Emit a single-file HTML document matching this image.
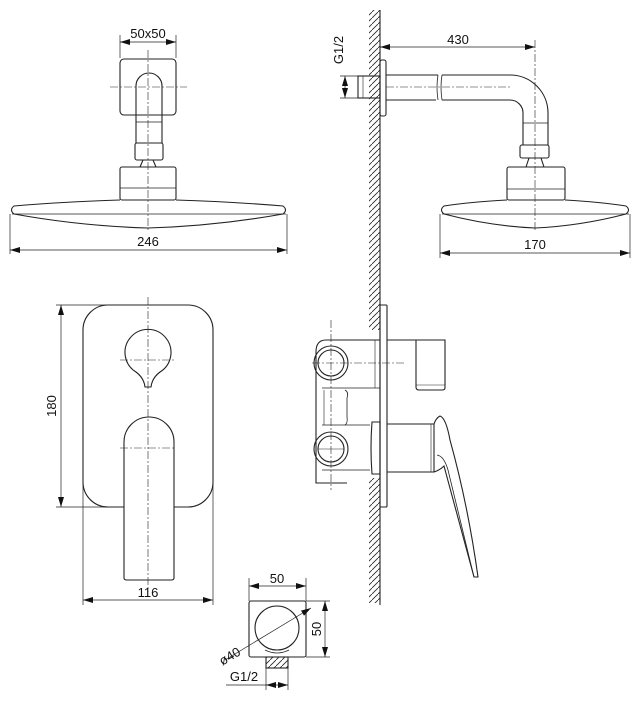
<!DOCTYPE html>
<html><head><style>
html,body{margin:0;padding:0;background:#fff;}
svg{display:block;}
text{font-family:"Liberation Sans",sans-serif;font-size:13px;fill:#111;}
</style></head><body>
<svg width="641" height="701" viewBox="0 0 641 701" xmlns="http://www.w3.org/2000/svg">
<defs>
<marker id="a" markerWidth="10" markerHeight="6" refX="10" refY="3" orient="auto-start-reverse" markerUnits="userSpaceOnUse"><path d="M0,0 L10,3 L0,6 z" fill="#111"/></marker>
<pattern id="h" width="6" height="6" patternUnits="userSpaceOnUse"><path d="M-1,7 L7,-1" stroke="#222" stroke-width="0.8"/></pattern>
</defs>
<g fill="none" stroke="#222" stroke-width="1.1">
<!-- top-left showerhead -->
<line x1="120" y1="35" x2="120" y2="58" stroke-width="0.7"/>
<line x1="176" y1="35" x2="176" y2="58" stroke-width="0.7"/>
<line x1="120" y1="42" x2="176" y2="42" stroke-width="0.7" marker-start="url(#a)" marker-end="url(#a)"/>
<rect x="120" y="59" width="56" height="56" rx="4"/>
<path d="M136,143 V86 A13,13 0 0 1 162,86 V143"/>
<line x1="136" y1="122" x2="162" y2="122" stroke-width="0.7"/>
<rect x="135" y="143" width="28" height="17" rx="2"/>
<path d="M140,167 L143,160 H153 L156,167"/>
<rect x="120" y="167" width="56" height="33" rx="2"/>
<line x1="120" y1="188" x2="176" y2="188" stroke-width="0.7"/>
<path d="M120,200 Q60,202 14,206 Q9,210 14,214 Q80,226 148,228 Q216,226 283,214 Q288,210 283,206 Q236,202 176,200"/>
<line x1="12" y1="214" x2="286" y2="214" stroke-width="0.7"/>
<line x1="10" y1="214" x2="10" y2="254" stroke-width="0.7"/>
<line x1="287" y1="214" x2="287" y2="254" stroke-width="0.7"/>
<line x1="10" y1="250" x2="287" y2="250" stroke-width="0.7" marker-start="url(#a)" marker-end="url(#a)"/>
<line x1="148" y1="50" x2="148" y2="232" stroke-width="0.6" stroke-dasharray="8,2,2,2"/>
<line x1="110" y1="87" x2="187" y2="87" stroke-width="0.6" stroke-dasharray="8,2,2,2"/>

<!-- wall -->
<rect x="369" y="10" width="11" height="320" fill="url(#h)" stroke="none"/>
<rect x="369" y="478" width="11" height="125" fill="url(#h)" stroke="none"/>
<line x1="380" y1="10" x2="380" y2="605"/>

<!-- shower arm -->
<rect x="380" y="60" width="6" height="56" rx="2"/>
<rect x="358" y="76" width="22" height="22"/>
<line x1="363" y1="76" x2="363" y2="98" stroke-width="0.6"/>
<path d="M386,75 H438 M386,100 H436"/>
<path d="M438,75 Q436,87 438,100" stroke-width="0.8"/>
<path d="M442,75 Q440,87 442,100" stroke-width="0.8"/>
<path d="M442,75 H510 A38,38 0 0 1 548,113 V145"/>
<path d="M442,100 H510 A13,13 0 0 1 523,113 V145"/>
<line x1="386" y1="87" x2="510" y2="87" stroke-width="0.6" stroke-dasharray="8,2,2,2"/>
<line x1="523" y1="123" x2="548" y2="123" stroke-width="0.7"/>
<rect x="520" y="145" width="29" height="13" rx="2"/>
<path d="M526,167 L529,158 H541 L544,167"/>
<rect x="507" y="167" width="58" height="33" rx="2"/>
<line x1="507" y1="189" x2="565" y2="189" stroke-width="0.7"/>
<path d="M507,200 Q470,202 444,206 Q439,210 444,214 Q490,226 535,228 Q580,226 626,214 Q631,210 626,206 Q600,202 565,200"/>
<line x1="442" y1="214" x2="629" y2="214" stroke-width="0.7"/>
<line x1="380" y1="38" x2="380" y2="58" stroke-width="0.7"/>
<line x1="380" y1="47" x2="535" y2="47" stroke-width="0.7" marker-start="url(#a)" marker-end="url(#a)"/>
<line x1="535" y1="40" x2="535" y2="232" stroke-width="0.6" stroke-dasharray="8,2,2,2"/>
<line x1="440" y1="214" x2="440" y2="258" stroke-width="0.7"/>
<line x1="630" y1="214" x2="630" y2="258" stroke-width="0.7"/>
<line x1="440" y1="253" x2="630" y2="253" stroke-width="0.7" marker-start="url(#a)" marker-end="url(#a)"/>
<line x1="340" y1="76" x2="358" y2="76" stroke-width="0.7"/>
<line x1="340" y1="98" x2="358" y2="98" stroke-width="0.7"/>
<line x1="345" y1="76" x2="345" y2="98" stroke-width="0.7" marker-start="url(#a)" marker-end="url(#a)"/>

<!-- mixer front -->
<path d="M124,507 H108 A25,25 0 0 1 83,482 V330 A25,25 0 0 1 108,305 H188 A25,25 0 0 1 213,330 V482 A25,25 0 0 1 188,507 H174"/>
<path d="M136,372 A23,23 0 1 1 160,372 Q152,378 151,387 H145 Q144,378 136,372 Z"/>
<path d="M124,578 V442 A25,25 0 0 1 174,442 V578 Q174,580 171,580 H127 Q124,580 124,578 Z"/>
<line x1="148" y1="297" x2="148" y2="592" stroke-width="0.6" stroke-dasharray="8,2,2,2"/>
<line x1="120" y1="360" x2="176" y2="360" stroke-width="0.6" stroke-dasharray="8,2,2,2"/>
<line x1="120" y1="448" x2="176" y2="448" stroke-width="0.6" stroke-dasharray="8,2,2,2"/>
<line x1="56" y1="305" x2="108" y2="305" stroke-width="0.7"/>
<line x1="56" y1="507" x2="124" y2="507" stroke-width="0.7"/>
<line x1="61" y1="305" x2="61" y2="507" stroke-width="0.7" marker-start="url(#a)" marker-end="url(#a)"/>
<line x1="83" y1="482" x2="83" y2="605" stroke-width="0.7"/>
<line x1="213" y1="482" x2="213" y2="605" stroke-width="0.7"/>
<line x1="83" y1="600" x2="213" y2="600" stroke-width="0.7" marker-start="url(#a)" marker-end="url(#a)"/>

<!-- mixer side -->
<rect x="380" y="305" width="7" height="202" rx="1"/>
<path d="M380,340 H326 Q316,340 316,352 V483 H347"/>
<line x1="322" y1="388" x2="380" y2="388" stroke-width="0.8"/>
<line x1="322" y1="425" x2="370" y2="425" stroke-width="0.8"/>
<line x1="322" y1="470" x2="370" y2="470" stroke-width="0.8"/>
<path d="M345,390 Q349,392 347,398 V417 Q348,423 345,425" stroke-width="0.8"/>
<line x1="324" y1="390" x2="324" y2="425" stroke-width="0.6"/>
<circle cx="331" cy="363" r="17"/><circle cx="331" cy="363" r="13"/>
<circle cx="331" cy="449" r="17"/><circle cx="331" cy="449" r="13"/>
<line x1="331" y1="320" x2="331" y2="490" stroke-width="0.6" stroke-dasharray="8,2,2,2"/>
<line x1="312" y1="363" x2="405" y2="363" stroke-width="0.6" stroke-dasharray="8,2,2,2"/>
<line x1="318" y1="449" x2="344" y2="449" stroke-width="0.6"/>
<line x1="375" y1="340" x2="375" y2="388" stroke-width="0.6"/>
<path d="M387,340 H445 V388 Q445,390 442,390 H419 Q416,390 416,387 V340"/>
<line x1="416" y1="385" x2="445" y2="385" stroke-width="0.6"/>
<path d="M372,422 Q370,448 372,474 H380 V422 Z"/>
<path d="M387,424 H434 V472 H387"/>
<line x1="431" y1="424" x2="431" y2="472" stroke-width="0.6"/>
<path d="M434,472 Q440,470 444,466 L474,577 H478 Q468,505 450,440 Q446,418 440,416 Q436,418 434,424"/>
<path d="M437,455 Q444,456 448,470 L474,577" stroke-width="0.8"/>

<!-- wall outlet -->
<rect x="249" y="601" width="57" height="56" rx="2"/>
<circle cx="277" cy="628" r="22"/>
<path d="M265,650 Q277,656 289,650" stroke-width="0.8"/>
<rect x="266" y="657" width="22" height="11" fill="url(#h)"/>
<line x1="249" y1="578" x2="249" y2="601" stroke-width="0.7"/>
<line x1="306" y1="578" x2="306" y2="601" stroke-width="0.7"/>
<line x1="249" y1="586" x2="306" y2="586" stroke-width="0.7" marker-start="url(#a)" marker-end="url(#a)"/>
<line x1="306" y1="601" x2="330" y2="601" stroke-width="0.7"/>
<line x1="306" y1="657" x2="330" y2="657" stroke-width="0.7"/>
<line x1="325" y1="601" x2="325" y2="657" stroke-width="0.7" marker-start="url(#a)" marker-end="url(#a)"/>
<line x1="225" y1="660" x2="311" y2="608" stroke-width="0.7" marker-end="url(#a)"/>
<line x1="266" y1="668" x2="266" y2="690" stroke-width="0.7"/>
<line x1="288" y1="668" x2="288" y2="690" stroke-width="0.7"/>
<line x1="226" y1="685" x2="288" y2="685" stroke-width="0.7" marker-end="url(#a)"/>
<line x1="266" y1="685" x2="270" y2="685" stroke-width="0.7" marker-start="url(#a)"/>
</g>
<text x="148" y="38" text-anchor="middle">50x50</text>
<text x="148" y="246" text-anchor="middle">246</text>
<text x="458" y="44" text-anchor="middle">430</text>
<text x="535" y="249" text-anchor="middle">170</text>
<text transform="translate(343,50) rotate(-90)" text-anchor="middle" font-size="12">G1/2</text>
<text transform="translate(56,406) rotate(-90)" text-anchor="middle">180</text>
<text x="148" y="597" text-anchor="middle">116</text>
<text x="277" y="583" text-anchor="middle">50</text>
<text transform="translate(321,629) rotate(-90)" text-anchor="middle">50</text>
<text transform="translate(232,660) rotate(-31)" text-anchor="middle" font-size="12">ø40</text>
<text x="244" y="681" text-anchor="middle" font-size="12">G1/2</text>
</svg>
</body></html>
